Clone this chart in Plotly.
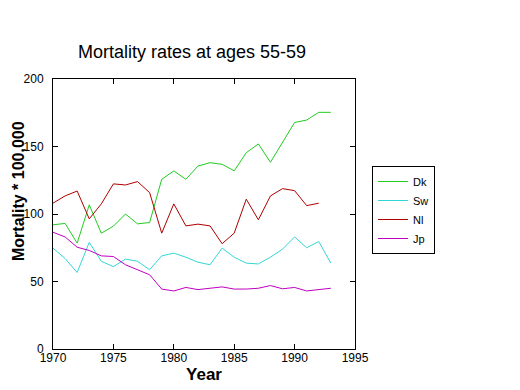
import plotly.graph_objects as go

years = list(range(1970, 1994))
dk = [92, 93, 78.4, 106.8, 85.8, 91, 100, 92.7, 93.7, 125.7, 131.9, 125.7, 135.5, 138,
      136.8, 132, 145.4, 151.9, 138.3, 153.5, 167.8, 169.6, 175.3, 175.3]
sw = [74.7, 67, 56.7, 79, 65, 61, 66.6, 65, 58.7, 69, 71, 68, 64.3, 62.4,
      74.7, 68, 63.6, 63, 68, 74, 83, 75, 79.6, 63.6]
nl = [108, 113.4, 117, 96.4, 107.5, 122.3, 121.5, 124, 115.8, 85.8, 107.5, 91.2, 92.5, 91.2,
      78, 85.8, 111, 95.7, 113.4, 118.8, 117.3, 106.2, 108]
jp = [86.5, 83, 75.4, 73, 69, 68.5, 62.4, 58.7, 55, 44.4, 43, 45.6, 44, 45,
      46, 44.4, 44.4, 45, 47, 44.6, 45.6, 43, 44, 45]

names = ["Dk", "Sw", "Nl", "Jp"]
colors = ["#22cc22", "#33d6d6", "#b00000", "#c000c0"]
series = [dk, sw, nl, jp]

fig = go.Figure()
for name, vals, c in zip(names, series, colors):
    fig.add_trace(go.Scatter(x=years[:len(vals)], y=vals, mode="lines", name=name,
                             line=dict(color=c, width=1)))

axis_common = dict(showline=True, linecolor="black", linewidth=1, mirror="ticks",
                   ticks="inside", ticklen=5, tickcolor="black", showgrid=False,
                   zeroline=False, automargin=False,
                   tickfont=dict(family="Arial", size=12, color="black"))

# page body has an 8px default margin: the figure is sized/offset to compensate
OFF = 8
W, H = 520 - OFF, 390 - OFF

fig.update_layout(
    width=W, height=H,
    margin=dict(l=53 - OFF, r=165, t=79 - OFF, b=41),
    paper_bgcolor="white", plot_bgcolor="white",
    title=dict(text="Mortality rates at ages 55-59", x=(192 - OFF) / W, xanchor="center",
               y=1 - (52 - OFF) / H, yanchor="middle",
               font=dict(family="Arial", size=18, color="black")),
    xaxis=dict(range=[1970, 1995], tickvals=[1970, 1975, 1980, 1985, 1990, 1995],
               ticklabelstandoff=-2,
               title=dict(text="<b>Year</b>", standoff=1,
                          font=dict(family="Arial", size=17, color="black")),
               **axis_common),
    yaxis=dict(range=[0, 200], tickvals=[0, 50, 100, 150, 200],
               ticklabelstandoff=6,
               **axis_common),
    annotations=[dict(text="<b>Mortality * 100,000</b>", textangle=-90,
                      xref="paper", yref="paper", x=-(53 - 18) / 302, y=(349 - 191) / 270,
                      xanchor="center", yanchor="middle", showarrow=False,
                      font=dict(family="Arial", size=16, color="black"))],
    showlegend=True,
    legend=dict(x=(372 - 53) / 302, y=(349 - 210) / 270, xanchor="left", yanchor="middle",
                bordercolor="black", borderwidth=1, bgcolor="white",
                font=dict(family="Arial", size=11, color="black"),
                itemwidth=30, tracegroupgap=0),
)

fig.write_html("out.html")
